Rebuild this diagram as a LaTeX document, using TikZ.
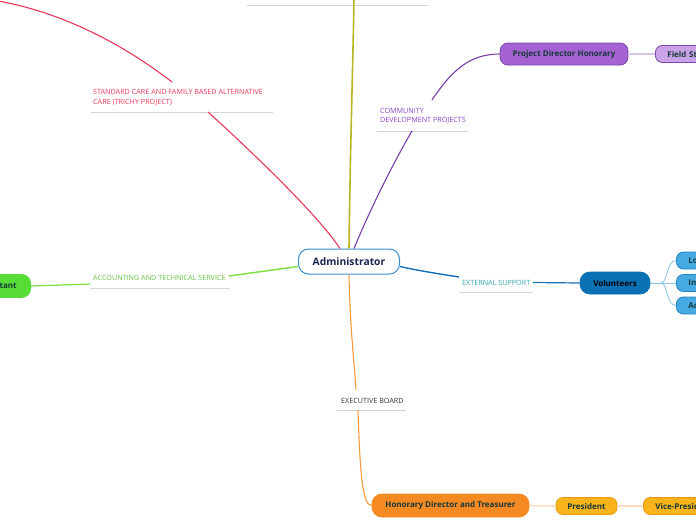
\documentclass[tikz,border=0pt]{standalone}
\usepackage{fontspec}
\setmainfont{Open Sans}
\definecolor{adminblue}{HTML}{3A8FD0}
\definecolor{navy}{HTML}{1A2550}
\definecolor{nodetext}{HTML}{173838}
\definecolor{redc}{HTML}{E8385A}
\definecolor{olivec}{HTML}{B8B424}
\definecolor{purplec}{HTML}{7A3EA8}
\definecolor{purplet}{HTML}{8C44C4}
\definecolor{purplefill}{HTML}{A462D2}
\definecolor{purpledraw}{HTML}{7C44AC}
\definecolor{lilacfill}{HTML}{C9A2E8}
\definecolor{lilacline}{HTML}{D8C4E8}
\definecolor{greenc}{HTML}{84E046}
\definecolor{greent}{HTML}{66C444}
\definecolor{greenfill}{HTML}{56DC34}
\definecolor{bluec}{HTML}{1672B8}
\definecolor{tealt}{HTML}{36A6B4}
\definecolor{volfill}{HTML}{0A72B4}
\definecolor{lbluefill}{HTML}{46AAE2}
\definecolor{lbluedraw}{HTML}{2484C4}
\definecolor{lblueline}{HTML}{88C4E4}
\definecolor{orangec}{HTML}{F8983A}
\definecolor{orangefill}{HTML}{F58A22}
\definecolor{yellowfill}{HTML}{F8B418}
\definecolor{yellowdraw}{HTML}{EC9614}
\definecolor{peachline}{HTML}{FCDCC0}
\definecolor{ulgray}{HTML}{D4D4D4}
\begin{document}
\begin{tikzpicture}[x=1pt,y=-1pt,
  lbl/.style={font=\fontsize{7.2}{10}\selectfont, inner sep=0pt, anchor=west, align=left},
  uline/.style={draw=ulgray, line width=0.8pt},
  topic/.style={rounded corners=8pt, font=\bfseries\fontsize{8}{9.5}\selectfont, text=nodetext, inner sep=0pt, line width=0.8pt},
  edgebox/.style={topic, rounded corners=7pt, minimum height=17pt, anchor=west, align=left},
  conn/.style={line width=1.1pt},
]
\useasboundingbox (0,0) rectangle (696,520);

% ---- nodes ----
\node[draw=adminblue, fill=white, rounded corners=10pt, line width=1pt,
      minimum width=101pt, minimum height=25pt, inner sep=0pt,
      font=\bfseries\fontsize{10.3}{12}\selectfont, text=navy] (adm) at (349,261.5) {Administrator};

% red branch
\node[lbl, text=redc] (std) at (93,97.5) {STANDARD CARE AND FAMILY BASED ALTERNATIVE\\CARE (TRICHY PROJECT)};
\coordinate (stdL) at (91,112);
\coordinate (stdR) at (273,112);
\coordinate (stdIn) at (208,112);
\coordinate (stdOut) at (172,82);
\coordinate (redEnd) at (-2,1);

% olive branch
\coordinate (topL) at (247,5);
\coordinate (topR) at (428,5);
\coordinate (oliveEnd) at (354,-2);

% purple branch
\node[lbl, font=\fontsize{7.2}{9}\selectfont, text=purplet] (cdp) at (380,116.5) {COMMUNITY\\DEVELOPMENT PROJECTS};
\coordinate (cdpL) at (377,131);
\coordinate (cdpR) at (468,131);
\coordinate (cdpIn) at (412,131);
\coordinate (cdpOut) at (432,100);
\node[topic, draw=purpledraw, fill=purplefill, minimum width=128pt, minimum height=22pt] (pdh) at (564,54) {Project Director Honorary};
\node[edgebox, draw=purpledraw, fill=lilacfill, minimum width=60pt, text width=60pt] (fst) at (655,54) {\hspace*{12pt}Field St};

% green branch
\node[lbl, text=greent] (ats) at (93,278) {ACCOUNTING AND TECHNICAL SERVICE};
\coordinate (atsL) at (90,288);
\coordinate (atsR) at (230,288);
\coordinate (atsIn) at (229,276);
\coordinate (atsOut) at (90,284);
\node[topic, draw=greenfill, fill=greenfill, rounded corners=9pt, minimum height=23pt, minimum width=60pt, anchor=east, text width=60pt, align=right] (acc) at (31,286) {tant\hspace*{14pt}};

% blue branch
\node[lbl, text=tealt] (ext) at (462,282.5) {EXTERNAL SUPPORT};
\coordinate (extL) at (459,292);
\coordinate (extR) at (533,292);
\coordinate (extIn) at (459,277);
\coordinate (extOut) at (533,282.5);
\node[topic, draw=volfill, fill=volfill, rounded corners=10pt, minimum width=70pt, minimum height=22pt, text=black] (vol) at (615,283) {Volunteers};
\coordinate (volOut) at (661,283);
\node[edgebox, draw=lbluedraw, fill=lbluefill, minimum width=50pt, text width=50pt] (c1) at (676,260.5) {\hspace*{12pt}Lo};
\node[edgebox, draw=lbluedraw, fill=lbluefill, minimum width=50pt, text width=50pt] (c2) at (676,283) {\hspace*{12pt}In};
\node[edgebox, draw=lbluedraw, fill=lbluefill, minimum width=50pt, text width=50pt] (c3) at (676,305.5) {\hspace*{12pt}Ac};

% orange branch
\node[lbl, text=black!80] (exb) at (341,400.5) {EXECUTIVE BOARD};
\coordinate (exbL) at (337,410);
\coordinate (exbR) at (406,410);
\coordinate (exbIn) at (356,390);
\coordinate (exbOut) at (358,410);
\node[topic, draw=orangefill, fill=orangefill, rounded corners=10pt, minimum width=157pt, minimum height=23pt] (hdt) at (450.5,505.5) {Honorary Director and Treasurer};
\node[topic, draw=yellowdraw, fill=yellowfill, rounded corners=7pt, minimum width=61pt, minimum height=17pt] (prs) at (586.5,506) {President};
\node[edgebox, draw=yellowdraw, fill=yellowfill, minimum width=70pt, text width=70pt] (vpr) at (643,506) {\hspace*{12pt}Vice-Presid};

% ---- underlines ----
\draw[uline] (stdL) -- (stdR);
\draw[uline] (topL) -- (topR);
\draw[uline] (cdpL) -- (cdpR);
\draw[uline] (atsL) -- (atsR);
\draw[uline] (extL) -- (extR);
\draw[uline] (exbL) -- (exbR);

% ---- connectors ----
\draw[conn, redc] ([xshift=-9pt]adm.north) .. controls (318,215) and (250,150) .. (stdIn);
\draw[conn, redc] (stdOut) .. controls (120,42) and (60,12) .. (redEnd);
\draw[conn, olivec, line width=1.6pt] (adm.north) .. controls (350,160) and (353,60) .. (oliveEnd);
\draw[conn, purplec] ([xshift=5pt]adm.north) .. controls (372,205) and (395,160) .. (cdpIn);
\draw[conn, purplec] (cdpOut) .. controls (452,70) and (470,54) .. (pdh.west);
\draw[lilacline, line width=1.6pt] (pdh.east) -- (fst.west);
\draw[conn, greenc, line width=1.5pt] ([yshift=-5pt]adm.west) -- (atsIn);
\draw[greenc, line width=1.3pt] (atsOut) -- (acc.east);
\draw[conn, bluec, line width=1.4pt] ([yshift=-5pt]adm.east) .. controls (420,271) and (440,274) .. (extIn);
\draw[conn, bluec, line width=1.2pt] (extOut) -- (vol.west);
\draw[lblueline, line width=0.8pt] (vol.east) -- (volOut);
\draw[lblueline, line width=0.8pt] (volOut) .. controls (668,283) and (666,260.5) .. (c1.west);
\draw[lblueline, line width=0.8pt] (volOut) -- (c2.west);
\draw[lblueline, line width=0.8pt] (volOut) .. controls (668,283) and (666,305.5) .. (c3.west);
\draw[conn, orangec] (adm.south) .. controls (350,330) and (355,370) .. (exbIn);
\draw[conn, orangec] (exbOut) .. controls (360,470) and (362,505.5) .. (hdt.west);
\draw[peachline, line width=1.6pt] (hdt.east) -- (prs.west);
\draw[peachline, line width=1.6pt] (prs.east) -- (vpr.west);
\end{tikzpicture}
\end{document}
